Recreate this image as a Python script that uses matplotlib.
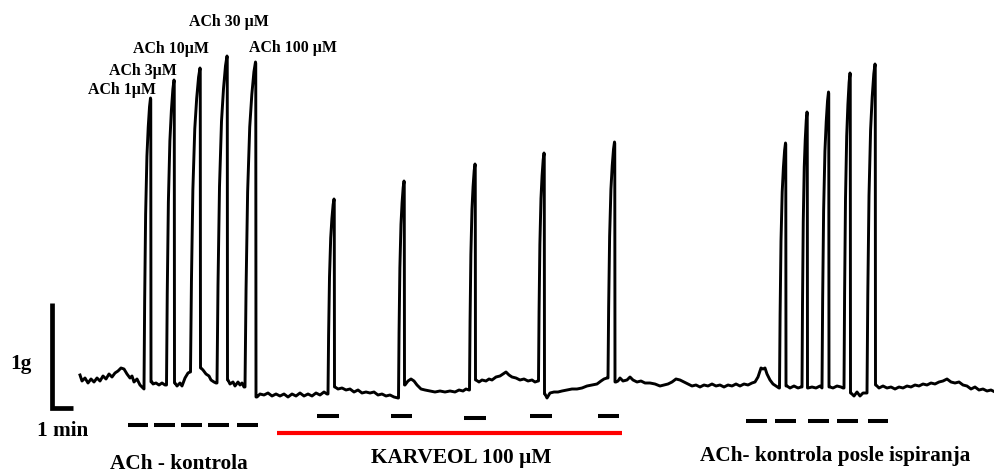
import matplotlib
matplotlib.use("Agg")
import matplotlib.pyplot as plt
import numpy as np

# ---------------- data (image units: x px, y px from top) ----------------
# baseline samples of the isometric tension trace
base_x = [80, 82, 85, 88, 91, 94, 97, 100, 103, 106, 109, 112, 115, 118, 121, 124, 127, 130, 132, 134, 137, 140, 143,
          152, 153, 156, 159, 162, 165,
          175, 177, 180, 182, 185, 188, 190,
          201, 203, 206, 209, 211, 214, 216,
          228, 230, 233, 235, 238, 240, 242, 244,
          257, 260, 264, 268, 272, 276, 280, 284, 288, 292, 296, 300, 304, 308, 312, 316, 320, 324, 327,
          335, 338, 342, 346, 350, 354, 358, 362, 366, 370, 374, 378, 382, 386, 390, 394, 398,
          405, 408, 411, 414, 417, 421, 425, 430, 435, 440, 445, 450, 455, 459, 463, 466, 469,
          476, 479, 482, 486, 489, 492, 496, 500, 503, 506, 509, 512, 516, 520, 524, 528, 532, 535, 538,
          545, 547, 550, 554, 558, 562, 567, 572, 577, 582, 587, 592, 597, 601, 604, 607,
          616, 618, 620, 623, 627, 630, 633, 637, 641, 645, 650, 655, 660, 664, 668, 672, 676, 680, 684, 688,
          692, 696, 700, 704, 708, 712, 716, 720, 724, 728, 732, 736, 740, 744, 748, 752, 755, 758, 761, 763,
          765, 767, 770, 773, 776, 779,
          787, 790, 794, 798, 801,
          808, 812, 816, 820,
          830, 833, 837, 841, 843,
          851, 854, 857, 860, 863, 866,
          876, 879, 883, 887, 891, 895, 899, 903, 907, 911, 915, 919, 923, 927, 931, 935, 939, 943, 947, 951,
          955, 959, 963, 967, 971, 975, 979, 983, 987, 991, 995]
base_y = [375, 381, 378, 383, 379, 382, 378, 381, 376, 379, 374, 377, 373, 371, 368, 369, 374, 378, 376, 382, 379, 385, 388,
          382, 384, 383, 385, 383, 385,
          383, 386, 383, 386, 378, 373, 372,
          368, 370, 374, 376, 380, 382, 383,
          380, 384, 382, 386, 382, 385, 383, 387,
          397, 394, 395, 393, 396, 394, 396, 394, 397, 394, 396, 393, 396, 394, 396, 393, 395, 392, 394,
          387, 389, 388, 390, 389, 392, 390, 393, 392, 393, 392, 395, 394, 396, 395, 397, 398,
          385, 381, 379, 381, 385, 389, 390, 391, 392, 391, 392, 391, 392, 390, 391, 389, 390,
          380, 382, 380, 381, 379, 380, 377, 376, 374, 372, 375, 377, 378, 380, 379, 381, 380, 382, 381,
          394, 398, 393, 392, 392, 391, 390, 389, 389, 388, 386, 385, 384, 381, 379, 378,
          382, 381, 378, 381, 380, 377, 380, 382, 381, 383, 383, 384, 386, 385, 384, 382, 379, 380, 382, 384,
          386, 385, 387, 385, 386, 384, 386, 385, 387, 385, 386, 384, 386, 384, 385, 383, 382, 377, 368, 369,
          368, 374, 380, 384, 386, 388,
          386, 388, 386, 388, 387,
          388, 387, 388, 386,
          387, 388, 386, 387, 388,
          393, 396, 392, 396, 393, 393,
          385, 388, 386, 388, 387, 389, 387, 388, 386, 387, 385, 386, 384, 385, 383, 384, 382, 381, 379, 382,
          383, 382, 385, 386, 389, 387, 390, 389, 391, 390, 392]

# contractions: onset x, tip x, tip y, baseline y at onset, baseline y after relaxation
peak_on    = [144, 166.5, 190.5, 217, 245,   328, 398.5, 469.5, 538.5, 608,   779.5, 802, 822, 844, 867]
peak_tip_x = [150.5, 174, 200, 227, 255.5,   334, 404, 475, 544, 614.5,   785.5, 807, 828.5, 850, 875]
peak_tip_y = [98, 80, 68, 56, 62,            199, 181, 164, 153, 142,     143, 112, 92, 73, 64]
peak_base  = [389, 385, 372, 383, 387,       394, 398, 390, 381, 378,     388, 387, 388, 388, 393]
peak_fall  = [382, 383, 368, 380, 397,       387, 385, 380, 394, 382,     386, 388, 387, 393, 385]

# ACh application marks
mark_x0 = [128, 154, 181, 208, 237,   317, 391, 464, 530, 598,   746, 775, 808, 837, 868]
mark_x1 = [148, 175, 202, 229, 258,   339, 412, 486, 552, 619,   767, 796, 829, 858, 888]
mark_y  = [425, 425, 425, 425, 425,   416, 416, 417.5, 416, 416,   420.5, 420.5, 420.5, 420.5, 420.5]

# carveol incubation bar
karveol_x = [277, 622]
karveol_y = 433

# concentration labels
conc_labels = ["ACh 1µM", "ACh 3µM", "ACh 10µM", "ACh 30 µM", "ACh 100 µM"]
conc_x = [121.7, 143, 171, 229, 292.7]
conc_y = [94, 74.7, 53.3, 25.7, 51.5]

# section labels
section_labels = ["ACh - kontrola", "KARVEOL 100 µM", "ACh- kontrola posle ispiranja"]
section_x = [179, 461, 835]
section_y = [469, 463, 461.5]

# ---------------- build trace ----------------
RISE_T = [0, 0.1, 0.25, 0.45, 0.65, 0.85, 1.0]
RISE_F = [0, 0.3, 0.6, 0.8, 0.9, 0.97, 1.0]

pts = list(zip(base_x, base_y))
for on, tx, ty, yb, yf in zip(peak_on, peak_tip_x, peak_tip_y, peak_base, peak_fall):
    for t, f in zip(RISE_T, RISE_F):
        pts.append((on + t * (tx - on), yb - f * (yb - ty)))
    pts.append((tx + 0.25, ty + 1.5))
    pts.append((tx + 0.5, yf))
pts.sort(key=lambda p: p[0])
tx_arr = np.array([p[0] for p in pts])
ty_arr = np.array([p[1] for p in pts])

# ---------------- draw ----------------
fig = plt.figure(figsize=(9.95, 4.75), dpi=100)
ax = fig.add_axes([0, 0, 1, 1])
ax.set_xlim(0, 995)
ax.set_ylim(475, 0)
ax.axis("off")

ax.plot(tx_arr, ty_arr, color="black", lw=2.1, solid_joinstyle="round")

ax.hlines(mark_y, mark_x0, mark_x1, colors="black", lw=2.9)
ax.hlines(karveol_y, karveol_x[0], karveol_x[1], colors="#ff0000", lw=3.0)

# scale bar (1 g / 1 min)
ax.plot([51.7, 51.7, 73], [303, 408, 408], color="black", lw=3.4,
        solid_joinstyle="miter", solid_capstyle="butt")

font = dict(family=["Liberation Serif", "DejaVu Serif"], weight="bold", color="black")
for s, x, y in zip(conc_labels, conc_x, conc_y):
    ax.text(x, y, s, ha="center", va="baseline", fontsize=11.4, **font)
for s, x, y in zip(section_labels, section_x, section_y):
    ax.text(x, y, s, ha="center", va="baseline", fontsize=15.3, **font)
ax.text(62.5, 436, "1 min", ha="center", va="baseline", fontsize=15.3, **font)
ax.text(21, 369, "1g", ha="center", va="baseline", fontsize=15.3, **font)

fig.savefig("out.png", dpi=100, facecolor="white")
